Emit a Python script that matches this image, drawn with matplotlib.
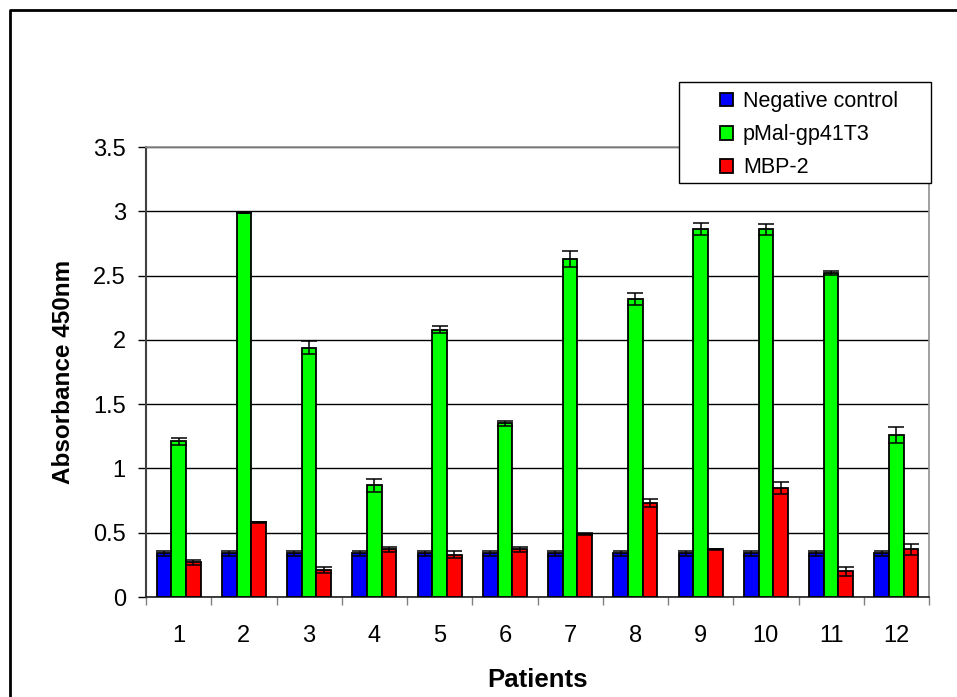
import numpy as np
import matplotlib.pyplot as plt
from matplotlib.patches import Rectangle
from matplotlib.lines import Line2D

plt.rcParams['font.family'] = ['Liberation Sans', 'DejaVu Sans']

patients = ['1', '2', '3', '4', '5', '6', '7', '8', '9', '10', '11', '12']
series_names = ['Negative control', 'pMal-gp41T3', 'MBP-2']

neg_ctrl = [0.34, 0.34, 0.34, 0.34, 0.34, 0.34, 0.34, 0.34, 0.34, 0.34, 0.34, 0.34]
neg_err = [0.02, 0.02, 0.02, 0.02, 0.02, 0.02, 0.02, 0.02, 0.02, 0.02, 0.02, 0.02]
gp41 = [1.21, 2.99, 1.94, 0.87, 2.08, 1.35, 2.63, 2.32, 2.86, 2.86, 2.52, 1.26]
gp41_err = [0.027, 0.005, 0.05, 0.05, 0.03, 0.017, 0.064, 0.048, 0.048, 0.045, 0.018, 0.06]
mbp2 = [0.27, 0.58, 0.21, 0.37, 0.33, 0.37, 0.49, 0.73, 0.37, 0.85, 0.20, 0.37]
mbp2_err = [0.02, 0.005, 0.02, 0.018, 0.03, 0.02, 0.005, 0.033, 0.005, 0.047, 0.034, 0.04]

colors = ['#0000FF', '#00FF00', '#FF0000']

W, H = 957, 697
fig = plt.figure(figsize=(W / 100, H / 100), dpi=100)
ax = fig.add_axes([146 / W, 1 - 597 / H, (929 - 146) / W, (597 - 147) / H])

x = np.arange(len(patients))
width = 0.225
values = [neg_ctrl, gp41, mbp2]
errors = [neg_err, gp41_err, mbp2_err]
for i in range(3):
    ax.bar(x + (i - 1) * width, values[i], width, color=colors[i],
           edgecolor='black', linewidth=1.3, zorder=3, label=series_names[i])
    ax.errorbar(x + (i - 1) * width, values[i], yerr=errors[i], fmt='none',
                ecolor='black', elinewidth=1.1, capsize=5.5, capthick=1.1, zorder=4)

ax.set_ylim(0, 3.5)
ax.set_xlim(-0.5, len(patients) - 0.5)
ax.set_yticks(np.arange(0, 3.51, 0.5))
ax.set_yticklabels(['0', '0.5', '1', '1.5', '2', '2.5', '3', '3.5'])
ax.yaxis.grid(True, color='black', linewidth=1.0, zorder=0)
ax.set_axisbelow(True)

# category labels at the centers, tick marks between groups
ax.set_xticks(x)
ax.set_xticklabels(patients)
ax.set_xticks(np.arange(-0.5, len(patients)), minor=True)
ax.tick_params(axis='x', which='major', length=0, pad=20.5, labelsize=17)
ax.tick_params(axis='x', which='minor', length=6, width=1, color='#808080', direction='out')
ax.tick_params(axis='y', length=6, width=1, pad=8.5, labelsize=17, direction='out')

for side in ['top', 'right']:
    ax.spines[side].set_color('#909090')
    ax.spines[side].set_linewidth(1.2)
ax.spines['left'].set_color('#404040')
ax.spines['left'].set_linewidth(1.5)
ax.spines['bottom'].set_color('#202020')
ax.spines['bottom'].set_linewidth(1.2)

ax.set_ylabel('Absorbance 450nm', fontsize=17.5, fontweight='bold', labelpad=13)
ax.set_xlabel('Patients', fontsize=18.5, fontweight='bold', labelpad=15)

# legend box
fig.patches.append(Rectangle((679 / W, 1 - 183 / H), (931 - 679) / W, (183 - 82) / H,
                             transform=fig.transFigure, facecolor='white',
                             edgecolor='black', linewidth=1.0, zorder=5))
handles, labels = ax.get_legend_handles_labels()
leg = fig.legend(handles, labels, loc='upper left', bbox_to_anchor=(703 / W, 1 - 74 / H),
                 frameon=False, fontsize=15.5, handlelength=0.6, handleheight=0.6,
                 handletextpad=0.45, labelspacing=0.56, borderpad=0.3)
leg.set_zorder(6)

# outer chart border
fig.add_artist(Line2D([10 / W, 10 / W, 1.0], [0.0, 1 - 10 / H, 1 - 10 / H],
                      transform=fig.transFigure, color='black', linewidth=2))

fig.savefig('out.png', dpi=100)
